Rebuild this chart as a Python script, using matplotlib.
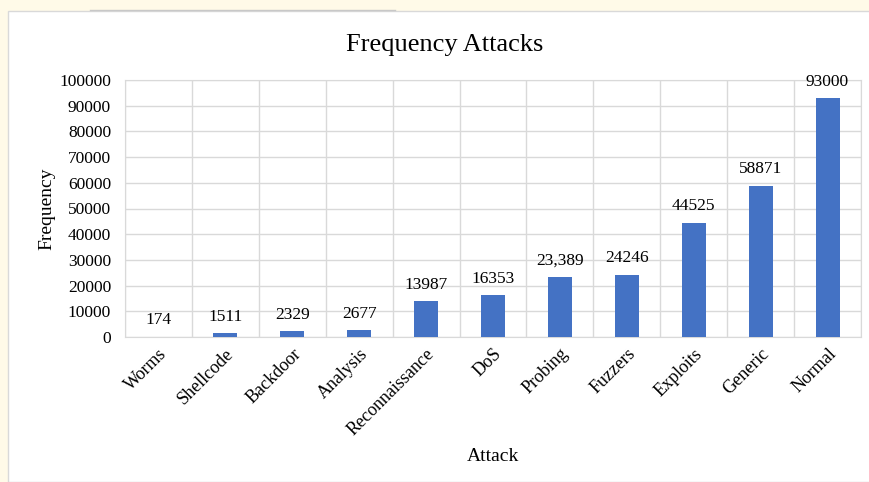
import matplotlib.pyplot as plt
from matplotlib.patches import Rectangle
from matplotlib.lines import Line2D

# attack categories and their counts
attacks = ["Worms", "Shellcode", "Backdoor", "Analysis", "Reconnaissance", "DoS",
           "Probing", "Fuzzers", "Exploits", "Generic", "Normal"]
counts = [174, 1511, 2329, 2677, 13987, 16353, 23389, 24246, 44525, 58871, 93000]
count_labels = ["174", "1511", "2329", "2677", "13987", "16353",
                "23,389", "24246", "44525", "58871", "93000"]

plt.rcParams['font.family'] = ['Liberation Serif', 'DejaVu Serif']

fig = plt.figure(figsize=(8.7, 4.82), dpi=100, facecolor='#FFFAE8')
# white chart area with thin border
fig.patches.append(Rectangle((8 / 870, 0), 1, 1 - 11 / 482, transform=fig.transFigure,
                             facecolor='white', edgecolor='#D9D9D9', lw=1, zorder=-5))
fig.lines.append(Line2D([90 / 870, 395 / 870], [1 - 10 / 482, 1 - 10 / 482],
                        transform=fig.transFigure, color='#C8C8C8', lw=1, zorder=-4))

ax = fig.add_axes([125 / 870, 1 - 337 / 482, (861 - 125) / 870, (337 - 80) / 482])
ax.set_facecolor('white')
ax.set_zorder(2)

x = range(len(attacks))
ax.bar(x, counts, width=0.36, color='#4472C4', zorder=3)
for i, (v, lab) in enumerate(zip(counts, count_labels)):
    ax.annotate(lab, (i, v), xytext=(0, 6), textcoords='offset points',
                ha='center', va='bottom', fontsize=12.5)

ax.set_xlim(-0.5, len(attacks) - 0.5)
ax.set_ylim(0, 100000)
ax.set_yticks(range(0, 100001, 10000))
ax.set_xticks(list(x))
ax.set_xticklabels(attacks, rotation=45, ha='right', rotation_mode='anchor', fontsize=13)
ax.set_xticks([i + 0.5 for i in range(-1, len(attacks))], minor=True)
ax.tick_params(axis='both', which='both', length=0)
ax.tick_params(axis='y', labelsize=12.5, pad=10)
ax.tick_params(axis='x', pad=6)
ax.grid(axis='y', color='#D9D9D9', lw=1, zorder=0)
ax.grid(axis='x', which='minor', color='#D9D9D9', lw=1, zorder=0)
for s in ax.spines.values():
    s.set_color('#D9D9D9')

ax.set_ylabel("Frequency", fontsize=14, labelpad=3)
ax.set_xlabel("Attack", fontsize=14, labelpad=7)
fig.text(445 / 870, 1 - 45 / 482, "Frequency Attacks", ha='center', va='center', fontsize=19)

fig.savefig("out.png", dpi=100, facecolor=fig.get_facecolor())
